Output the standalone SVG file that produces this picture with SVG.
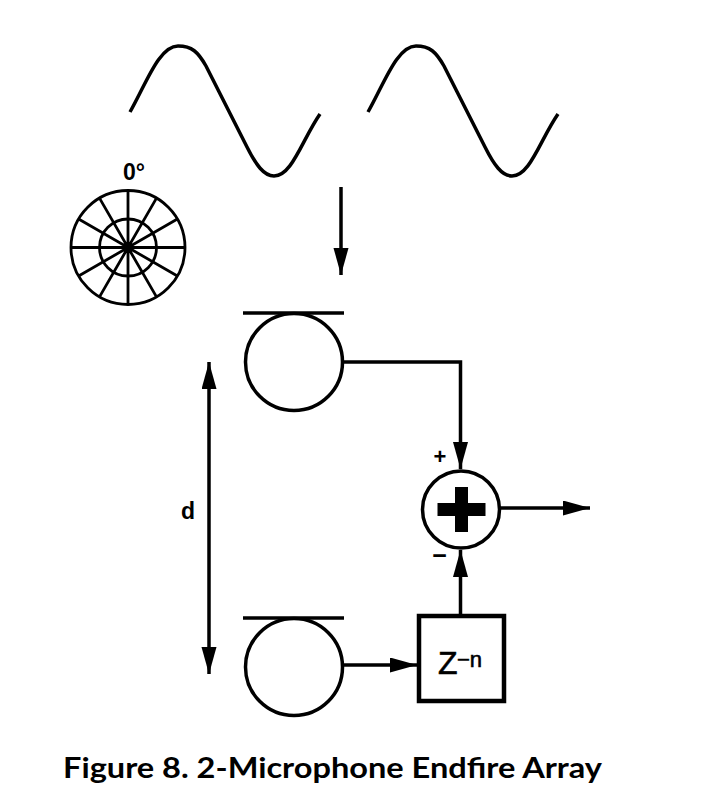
<svg xmlns="http://www.w3.org/2000/svg" width="720" height="811" viewBox="0 0 720 811">
<style>
.w{fill:none;stroke:#000;stroke-width:3.500}
.c{fill:#fff;stroke:#000;stroke-width:3.500}
.s{stroke:#000;stroke-width:2.800;fill:none}
.t{font-family:"Liberation Sans",Arial,sans-serif;fill:#000}
</style>
<defs>
<marker id="a" markerUnits="userSpaceOnUse" markerWidth="28" markerHeight="16" refX="27" refY="7.500" orient="auto-start-reverse"><path d="M0 0L27 7.500L0 15Z" fill="#000"/></marker>
</defs>
<rect width="720" height="811" fill="#fff"/>
<g id="wave-1"><path class="w" d="M130 112C146 84 159 46 178 46C192 46 198 52 206 66L247 147C256 165 264 176 274 176C292 176 302 140 320 114"/></g>
<g id="wave-2"><path class="w" d="M368 112C384 84 397 46 416 46C430 46 436 52 444 66L485 147C494 165 502 176 512 176C530 176 540 140 558 114"/></g>
<g id="polar">
<text class="t" x="134" y="180" font-size="23" font-weight="bold" text-anchor="middle">0°</text>
<circle class="s" cx="128" cy="247.500" r="57"/>
<circle class="s" cx="128" cy="247.500" r="28.500"/>
<path class="s" d="M128 190.500V304.500M71 247.500H185M99.500 198.100L156.500 296.900M156.500 198.100L99.500 296.900M78.600 219L177.400 276M177.400 219L78.600 276"/>
</g>
<g id="mic-1"><circle class="c" cx="294" cy="362" r="48.500"/><path d="M243 313H344" stroke="#000" stroke-width="3.500"/></g>
<g id="mic-2"><circle class="c" cx="294" cy="667" r="48.500"/><path d="M243 618H344" stroke="#000" stroke-width="3.500"/></g>
<g id="sum"><circle class="c" cx="461" cy="509.500" r="38.500"/><path d="M437.500 503H485.500V516H437.500ZM455 487H468V532H455Z" fill="#000"/>
<text class="t" x="440" y="464" font-size="22" font-weight="bold" text-anchor="middle">+</text>
<text class="t" x="439.500" y="564" font-size="25" font-weight="bold" text-anchor="middle">−</text></g>
<g id="delay"><rect x="419" y="616" width="85" height="85" fill="#fff" stroke="#000" stroke-width="4.500"/>
<text class="t" x="438" y="674" font-size="32" stroke="#000" stroke-width=".6">Z</text><text class="t" x="457" y="666.500" font-size="22" stroke="#000" stroke-width=".6">−n</text></g>
<g id="distance"><text class="t" x="188" y="519" font-size="23" font-weight="bold" text-anchor="middle">d</text></g>
<g id="connectors">
<path class="w" marker-end="url(#a)" d="M341 187V275"/>
<path class="w" marker-start="url(#a)" marker-end="url(#a)" d="M209 362V674"/>
<path class="w" marker-end="url(#a)" d="M342 362H460.500V469"/>
<path class="w" marker-end="url(#a)" d="M342 665H417"/>
<path class="w" marker-end="url(#a)" d="M460.500 614V550"/>
<path class="w" marker-end="url(#a)" d="M499 508H590"/>
</g>
<text class="t" x="63" y="778" style="font-family:Lato,'Open Sans',sans-serif" font-size="29" font-weight="bold" textLength="539" lengthAdjust="spacingAndGlyphs">Figure 8. 2-Microphone Endfire Array</text>
</svg>
